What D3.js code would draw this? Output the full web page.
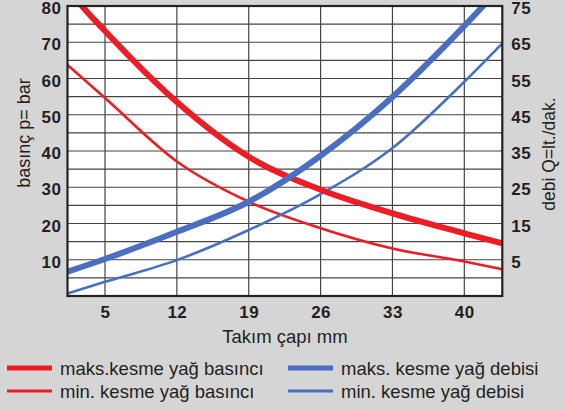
<!DOCTYPE html>
<html><head><meta charset="utf-8">
<script src="https://cdn.jsdelivr.net/npm/d3@7"></script>
<style>
html,body{margin:0;padding:0;background:#d5d5d5;}
svg{display:block;font-family:"Liberation Sans",Arial,sans-serif;}
</style></head><body>
<svg id="c" width="565" height="409"></svg>
<script>
// ---- data ----
const xTicks = [5, 12, 19, 26, 33, 40];
const leftTicks = [10, 20, 30, 40, 50, 60, 70, 80];
const rightTicks = [5, 15, 25, 35, 45, 55, 65, 75];
const gridLeft = [5,10,15,20,25,30,35,40,45,50,55,60,65,70,75];

const maxPressX = [1.35, 2.76, 5, 12, 19, 26, 33, 40, 43.7];
const maxPressY = [85, 80, 73.1, 53.5, 38.4, 29.3, 22.8, 17.3, 14.5];
const minPressX = [1.35, 5, 12, 19, 26, 33, 40, 43.7];
const minPressY = [63.7, 54.6, 37.1, 26.0, 18.7, 13.1, 9.5, 7.4];
const maxFlowX = [1.35, 5, 12, 19, 26, 33, 40, 41.83, 43.7];
const maxFlowY = [1.7, 5.2, 12.7, 21.0, 33.7, 49.9, 69.5, 75, 81];
const minFlowX = [1.35, 5, 12, 19, 26, 33, 40, 43.7];
const minFlowY = [-4.3, -1.1, 4.9, 13.2, 23.1, 35.8, 54.1, 64.7];

const legendLabels = ["maks.kesme yağ basıncı", "min. kesme yağ basıncı", "maks. kesme yağ debisi", "min. kesme yağ debisi"];

// ---- layout ----
const L = 67.5, R = 502.3, T = 6, B = 296;
const RED = "#ee1c25", BLUE = "#4a6fc0", INK = "#231f20";
const x = d3.scaleLinear().domain([1.347, 43.70]).range([L, R]);
const yL = d3.scaleLinear().domain([0, 80]).range([B, T]);
const yR = d3.scaleLinear().domain([-5, 75]).range([B, T]);

const svg = d3.select("#c");
svg.append("rect").attr("width",565).attr("height",409).attr("fill","#d5d5d5");
svg.append("rect").attr("x",L).attr("y",T).attr("width",R-L).attr("height",B-T).attr("fill","#fff");

// grid
const g = svg.append("g");
g.selectAll("line.h").data(gridLeft).join("line")
  .attr("x1",L).attr("x2",R).attr("y1",d=>yL(d)).attr("y2",d=>yL(d))
  .attr("stroke","#444").attr("stroke-width",1.2);
g.selectAll("line.v").data(xTicks).join("line")
  .attr("x1",d=>x(d)).attr("x2",d=>x(d)).attr("y1",T).attr("y2",B)
  .attr("stroke","#444").attr("stroke-width",1.2);

// clip
svg.append("clipPath").attr("id","clip").append("rect")
  .attr("x",L).attr("y",T).attr("width",R-L).attr("height",B-T);

const lineL = d3.line().x(d=>x(d[0])).y(d=>yL(d[1])).curve(d3.curveMonotoneX);
const lineR = d3.line().x(d=>x(d[0])).y(d=>yR(d[1])).curve(d3.curveMonotoneX);
const zip = (a,b)=>a.map((v,i)=>[v,b[i]]);
const curves = svg.append("g").attr("clip-path","url(#clip)");
curves.append("path").attr("d",lineL(zip(minPressX,minPressY))).attr("fill","none").attr("stroke",RED).attr("stroke-width",2.6);
curves.append("path").attr("d",lineR(zip(minFlowX,minFlowY))).attr("fill","none").attr("stroke",BLUE).attr("stroke-width",2.6);
curves.append("path").attr("d",lineL(zip(maxPressX,maxPressY))).attr("fill","none").attr("stroke",RED).attr("stroke-width",6);
curves.append("path").attr("d",lineR(zip(maxFlowX,maxFlowY))).attr("fill","none").attr("stroke",BLUE).attr("stroke-width",6);

// frame
svg.append("rect").attr("x",L).attr("y",T).attr("width",R-L).attr("height",B-T)
  .attr("fill","none").attr("stroke","#222").attr("stroke-width",2.2);

// axes
const axL = svg.append("g").attr("transform",`translate(${L},0)`)
  .call(d3.axisLeft(yL).tickValues(leftTicks).tickSize(0).tickPadding(6));
const axR = svg.append("g").attr("transform",`translate(${R},0)`)
  .call(d3.axisRight(yR).tickValues(rightTicks).tickSize(0).tickPadding(9));
const axB = svg.append("g").attr("transform",`translate(0,${B})`)
  .call(d3.axisBottom(x).tickValues(xTicks).tickSize(0).tickPadding(10));
[axL,axR,axB].forEach(a=>{
  a.select(".domain").remove();
  a.selectAll("text").attr("font-size",17).attr("font-weight","bold").attr("fill",INK)
    .attr("letter-spacing",0.5)
    .attr("font-family","'Liberation Sans',Arial,sans-serif");
});
axL.selectAll("text").attr("dy","0.45em");
axR.selectAll("text").attr("dy","0.45em");

// titles
svg.append("text").attr("transform","translate(29.5,133) rotate(-90)").attr("text-anchor","middle")
  .attr("font-size",18).attr("fill",INK).text("basınç p= bar");
svg.append("text").attr("transform","translate(555,154) rotate(-90)").attr("text-anchor","middle")
  .attr("font-size",17.5).attr("fill",INK).text("debi Q=lt./dak.");
svg.append("text").attr("x",285).attr("y",343).attr("text-anchor","middle")
  .attr("font-size",18.5).attr("fill",INK).text("Takım çapı mm");

// legend
const leg = [
  {x:7, y:368, c:RED, w:5},
  {x:7, y:391, c:RED, w:3},
  {x:288, y:368, c:BLUE, w:5},
  {x:288, y:391, c:BLUE, w:3}
];
const lg = svg.append("g");
lg.selectAll("line").data(leg).join("line")
  .attr("x1",d=>d.x).attr("x2",d=>d.x+45).attr("y1",d=>d.y).attr("y2",d=>d.y)
  .attr("stroke",d=>d.c).attr("stroke-width",d=>d.w);
lg.selectAll("text").data(leg).join("text")
  .attr("x",d=>d.x+53).attr("y",d=>d.y+6.5).attr("font-size",18.5).attr("fill",INK)
  .text((d,i)=>legendLabels[i]);
</script>
</body></html>
